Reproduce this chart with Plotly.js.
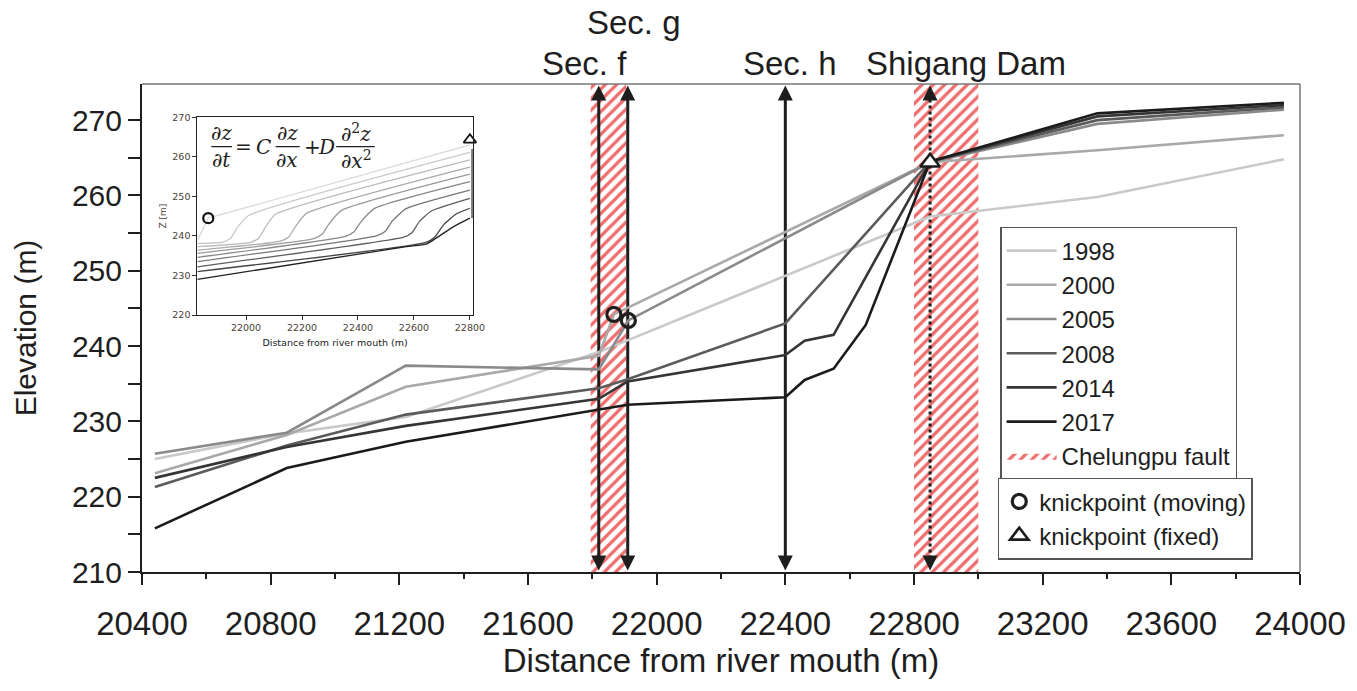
<!DOCTYPE html>
<html><head><meta charset="utf-8">
<script src="https://cdn.plot.ly/plotly-3.0.1.min.js"></script>
<style>html,body{margin:0;padding:0;background:#fff}#chart{width:1357px;height:691px}</style>
</head><body><div id="chart"></div>
<script>
// ---------- main profiles (distance m, elevation m) ----------
const years = ['1998','2000','2005','2008','2014','2017'];
const x1998 = [20440, 20850, 21220, 21820, 22850, 23370, 23950];
const z1998 = [225.0, 228.4, 230.6, 239.2, 257.2, 259.8, 264.8];
const x2000 = [20440, 20850, 21220, 21820, 21867, 22850, 23370, 23950];
const z2000 = [223.1, 228.2, 234.6, 238.7, 244.2, 264.4, 266.0, 268.0];
const x2005 = [20440, 20850, 21220, 21820, 21912, 22850, 23370, 23950];
const z2005 = [225.7, 228.5, 237.4, 236.9, 243.4, 264.4, 269.5, 271.4];
const x2008 = [20440, 20850, 21220, 21820, 21910, 22400, 22850, 23370, 23950];
const z2008 = [221.3, 226.8, 230.9, 234.4, 235.6, 243.0, 264.5, 270.0, 271.7];
const x2014 = [20440, 20850, 21220, 21820, 21910, 22400, 22460, 22550, 22850, 23370, 23950];
const z2014 = [222.5, 226.6, 229.4, 233.0, 235.3, 238.8, 240.7, 241.5, 264.5, 270.5, 272.0];
const x2017 = [20440, 20850, 21220, 21820, 21910, 22400, 22460, 22550, 22650, 22850, 23370, 23950];
const z2017 = [215.8, 223.8, 227.3, 231.6, 232.2, 233.2, 235.5, 237.0, 242.8, 264.5, 270.9, 272.3];

// knickpoints
const movingKnickX = [21867, 21912];
const movingKnickZ = [244.2, 243.4];
const fixedKnickX = [22850];
const fixedKnickZ = [264.4];

// sections and fault zones
const sectionNames = ['Sec. f', 'Sec. g', 'Sec. h', 'Shigang Dam'];
const sectionX = [21820, 21910, 22400, 22850];
const faultStart = [21795, 22800];
const faultEnd = [21905, 23000];

// axis ticks
const xTicks = [20400, 20800, 21200, 21600, 22000, 22400, 22800, 23200, 23600, 24000];
const yTicks = [210, 220, 230, 240, 250, 260, 270];

// ---------- inset: modelled profiles ----------
const insetX = [
  [21826, 21865, 22800],
  [21826, 21915, 21945, 21970, 22008, 22800],
  [21826, 22016, 22046, 22070, 22104, 22800],
  [21826, 22123, 22153, 22177, 22216, 22800],
  [21826, 22242, 22272, 22296, 22340, 22800],
  [21826, 22355, 22385, 22410, 22458, 22800],
  [21826, 22468, 22498, 22523, 22572, 22800],
  [21826, 22563, 22593, 22619, 22662, 22800],
  [21826, 22640, 22673, 22706, 22752, 22800],
  [21826, 22573, 22645, 22740, 22800]
];
const insetZ = [
  [238.8, 244.5, 263.0],
  [238.1, 238.4, 239.4, 242.2, 245.1, 261.1],
  [237.3, 238.4, 239.5, 242.3, 245.4, 259.2],
  [236.4, 238.7, 239.8, 242.4, 245.7, 257.4],
  [235.6, 239.3, 240.4, 243.0, 246.4, 255.6],
  [234.6, 239.9, 241.0, 243.5, 246.9, 253.7],
  [233.5, 240.1, 241.2, 243.8, 246.9, 251.6],
  [232.2, 239.7, 240.8, 243.6, 246.3, 249.5],
  [231.0, 238.3, 239.6, 242.8, 245.6, 247.0],
  [229.0, 237.3, 238.0, 242.3, 244.5]
];
const insetWallX = [22808, 22808];
const insetWallZ = [244.5, 262.0];
const insetMovingX = [21865], insetMovingZ = [244.5];
const insetFixedX = [22800], insetFixedZ = [264.3];
const insetXTicks = [22000, 22200, 22400, 22600, 22800];
const insetYTicks = [220, 230, 240, 250, 260, 270];

// ---------- styles ----------
const yMin = 210, yMax = 274.8;
const lineColors = ['#c9c9c9', '#a9a9a9', '#8a8a8a', '#5b5b5b', '#353535', '#1b1b1b'];
const insetColors = ['#dadada','#cacaca','#bbbbbb','#ababab','#9a9a9a','#888888','#767676','#5e5e5e','#444444','#222222'];
const FONT = 'Liberation Sans, Arial, sans-serif';
const INK = '#1e1e1e';

const seriesX = [x1998, x2000, x2005, x2008, x2014, x2017];
const seriesZ = [z1998, z2000, z2005, z2008, z2014, z2017];

const traces = [];

// fault zones (hatched), drawn first
const fx = [], fy = [];
faultStart.forEach((s, i) => {
  if (i > 0) { fx.push(null); fy.push(null); }
  fx.push(s, faultEnd[i], faultEnd[i], s, s);
  fy.push(yMin, yMin, yMax, yMax, yMin);
});
traces.push({
  x: fx, y: fy, type: 'scatter', mode: 'lines', fill: 'toself',
  name: 'Chelungpu fault', legendrank: 7, legend: 'legend',
  line: {width: 0, color: 'rgba(0,0,0,0)'},
  fillcolor: 'rgba(255,255,255,0)',
  fillpattern: {shape: '/', fgcolor: '#f06c6c', bgcolor: '#ffffff', size: 8, solidity: 0.4},
  hoverinfo: 'skip'
});

// section arrows (lines + heads)
sectionX.forEach((sx, i) => {
  const dotted = sectionNames[i] === 'Shigang Dam';
  traces.push({
    x: [sx, sx], y: [yMin + 1.0, yMax - 1.0], type: 'scatter', mode: 'lines',
    line: {color: INK, width: 3, dash: dotted ? 'dot' : 'solid'},
    showlegend: false, hoverinfo: 'skip', cliponaxis: false
  });
  traces.push({
    x: [sx], y: [yMax - 0.2], type: 'scatter', mode: 'markers',
    marker: {symbol: 'arrow-up', size: 15, color: INK, line: {width: 0}},
    showlegend: false, hoverinfo: 'skip', cliponaxis: false
  });
  traces.push({
    x: [sx], y: [yMin + 0.2], type: 'scatter', mode: 'markers',
    marker: {symbol: 'arrow-down', size: 15, color: INK, line: {width: 0}},
    showlegend: false, hoverinfo: 'skip', cliponaxis: false
  });
});

years.forEach((yr, i) => {
  traces.push({
    x: seriesX[i], y: seriesZ[i], type: 'scatter', mode: 'lines', name: yr,
    legendrank: i + 1, legend: 'legend',
    line: {color: lineColors[i], width: 2.6}
  });
});

// knickpoints
traces.push({
  x: movingKnickX, y: movingKnickZ, type: 'scatter', mode: 'markers',
  name: 'knickpoint (moving)', legend: 'legend2', legendrank: 1,
  marker: {symbol: 'circle-open', size: 14, color: INK, line: {width: 3.2, color: INK}}
});
traces.push({
  x: fixedKnickX, y: fixedKnickZ, type: 'scatter', mode: 'markers',
  name: 'knickpoint (fixed)', legend: 'legend2', legendrank: 2,
  marker: {symbol: 'triangle-up', size: 17, color: '#ffffff', line: {width: 2.6, color: INK}}
});

// inset traces
insetX.forEach((xs, i) => {
  traces.push({
    x: xs, y: insetZ[i], xaxis: 'x2', yaxis: 'y2', type: 'scatter', mode: 'lines',
    line: {color: insetColors[i], width: 1.3, shape: i === 0 ? 'linear' : 'spline', smoothing: 0.5},
    showlegend: false, hoverinfo: 'skip'
  });
});
traces.push({
  x: insetWallX, y: insetWallZ, xaxis: 'x2', yaxis: 'y2', type: 'scatter', mode: 'lines',
  line: {color: '#444', width: 1.6}, showlegend: false, hoverinfo: 'skip'
});
traces.push({
  x: insetMovingX, y: insetMovingZ, xaxis: 'x2', yaxis: 'y2', type: 'scatter', mode: 'markers',
  marker: {symbol: 'circle-open', size: 10, color: '#111', line: {width: 2.2, color: '#111'}},
  showlegend: false, hoverinfo: 'skip', cliponaxis: false
});
traces.push({
  x: insetFixedX, y: insetFixedZ, xaxis: 'x2', yaxis: 'y2', type: 'scatter', mode: 'markers',
  marker: {symbol: 'triangle-up', size: 11, color: '#fff', line: {width: 1.8, color: '#111'}},
  showlegend: false, hoverinfo: 'skip', cliponaxis: false
});

// ---------- annotations & shapes ----------
const annotations = [];
const shapes = [];
const labelY = [1.041, 1.127, 1.041, 1.041];
const labelShift = [-14, 6, 5, 36];
sectionX.forEach((sx, i) => {
  annotations.push({x: sx, y: labelY[i], xref: 'x', yref: 'paper', text: sectionNames[i], showarrow: false,
    xshift: labelShift[i], yanchor: 'middle', font: {family: FONT, size: 33, color: INK}});
});

// frame top/right (gray)
shapes.push({type: 'line', xref: 'paper', yref: 'paper', x0: 0, x1: 1, y0: 1, y1: 1, line: {color: '#777', width: 1.5}});
shapes.push({type: 'line', xref: 'paper', yref: 'paper', x0: 1, x1: 1, y0: 0, y1: 1, line: {color: '#777', width: 1.5}});

// inset equation (built from text pieces)
const EQF = {family: 'DejaVu Serif, Liberation Serif, serif', size: 20, color: '#222'};
const eqParts = [
  {x: 21913, y: 265.9, t: '∂<i>z</i>'}, {x: 21913, y: 259.3, t: '∂<i>t</i>'},
  {x: 21992, y: 262.6, t: '='}, {x: 22062, y: 262.6, t: '<i>C</i>'},
  {x: 22148, y: 265.9, t: '∂<i>z</i>'}, {x: 22148, y: 259.3, t: '∂<i>x</i>'},
  {x: 22238, y: 262.6, t: '+'}, {x: 22287, y: 262.6, t: '<i>D</i>'},
  {x: 22394, y: 265.9, t: '∂<sup>2</sup><i>z</i>'}, {x: 22394, y: 259.3, t: '∂<i>x</i><sup>2</sup>'}
];
eqParts.forEach(p => annotations.push({x: p.x, y: p.y, xref: 'x2', yref: 'y2', text: p.t, showarrow: false,
  font: EQF, xanchor: 'center', yanchor: 'middle'}));
[[21876, 21950], [22106, 22192], [22322, 22460]].forEach(b => shapes.push({type: 'line', xref: 'x2', yref: 'y2',
  x0: b[0], x1: b[1], y0: 262.6, y1: 262.6, line: {color: '#222', width: 1.3}}));

const layout = {
  width: 1357, height: 691,
  margin: {l: 142, r: 57, t: 84, b: 119},
  paper_bgcolor: '#ffffff', plot_bgcolor: '#ffffff',
  font: {family: FONT, color: INK},
  showlegend: true,
  xaxis: {
    range: [20400, 24000], tickvals: xTicks, tickformat: 'd', ticks: 'outside', ticklen: 11, tickwidth: 2, tickcolor: INK,
    showline: true, linecolor: INK, linewidth: 2, showgrid: false, zeroline: false,
    tickfont: {size: 33, family: FONT, color: INK}, ticklabelstandoff: 10,
    minor: {dtick: 200, ticks: 'outside', ticklen: 5, tickwidth: 2, tickcolor: INK, showgrid: false},
    title: {text: 'Distance from river mouth (m)', font: {size: 33, family: FONT, color: INK}, standoff: 4},
    automargin: false
  },
  yaxis: {
    range: [yMin, yMax], tickvals: yTicks, ticks: 'outside', ticklen: 12, tickwidth: 2, tickcolor: INK,
    showline: true, linecolor: INK, linewidth: 2, showgrid: false, zeroline: false,
    tickfont: {size: 30, family: FONT, color: INK},
    minor: {dtick: 5, ticks: 'outside', ticklen: 12, tickwidth: 2, tickcolor: INK, showgrid: false},
    title: {text: 'Elevation (m)', font: {size: 30, family: FONT, color: INK}, standoff: 26},
    automargin: false
  },
  xaxis2: {
    domain: [0.0478, 0.2856], anchor: 'y2', range: [21826, 22810], tickvals: insetXTicks, tickformat: 'd',
    ticks: 'outside', ticklen: 4, tickwidth: 1, tickcolor: '#333', showline: true, linecolor: '#222',
    linewidth: 1, mirror: true, showgrid: false, zeroline: false,
    tickfont: {size: 9.5, color: '#4a4238', family: 'DejaVu Sans, sans-serif'},
    title: {text: 'Distance from river mouth (m)', font: {size: 9.5, color: '#222', family: 'DejaVu Sans, sans-serif'}, standoff: 6}
  },
  yaxis2: {
    domain: [0.5266, 0.9318], anchor: 'x2', range: [220, 270], tickvals: insetYTicks, tickformat: 'd',
    ticks: 'outside', ticklen: 4, tickwidth: 1, tickcolor: '#333', showline: true, linecolor: '#222',
    linewidth: 1, mirror: true, showgrid: false, zeroline: false,
    tickfont: {size: 9.5, color: '#4a4238', family: 'DejaVu Sans, sans-serif'},
    title: {text: 'Z [m]', font: {size: 9, color: '#4a4238', family: 'DejaVu Sans, sans-serif'}, standoff: 4}
  },
  legend: {
    x: 0.741, y: 0.707, xanchor: 'left', yanchor: 'top', bgcolor: '#ffffff',
    bordercolor: '#555', borderwidth: 1.5, font: {size: 24, family: FONT, color: INK},
    itemwidth: 50, tracegroupgap: 0, traceorder: 'normal'
  },
  legend2: {
    x: 0.739, y: 0.193, xanchor: 'left', yanchor: 'top', bgcolor: '#ffffff',
    bordercolor: '#555', borderwidth: 1.5, font: {size: 24, family: FONT, color: INK},
    itemwidth: 30, tracegroupgap: 0
  },
  annotations: annotations,
  shapes: shapes
};

Plotly.newPlot('chart', traces, layout, {staticPlot: true, displayModeBar: false});
</script>
</body></html>
